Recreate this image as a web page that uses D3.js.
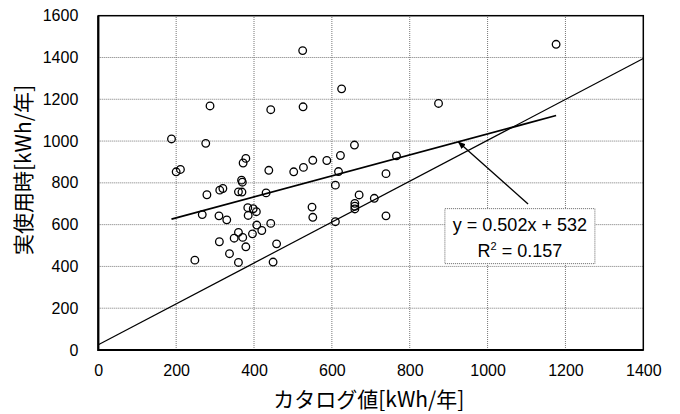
<html>
<head>
<meta charset="utf-8">
<script src="https://d3js.org/d3.v7.min.js"></script>
<style>
body { margin:0; background:#fff; }
</style>
</head>
<body>
<svg width="680" height="414"></svg>
<script>
// catalog value (x) and actual use (y), kWh/year
var catalog = [188,200,211,248,267,276,279,287,310,311,312,320,330,337,349,360,360,360,369,368,370,371,372,379,379,
	384,398,406,385,396,407,420,431,438,443,443,449,458,502,525,526,527,549,551,551,587,609,609,617,622,625,
	658,659,659,659,670,709,739,739,766,874,1176];
var actual = [1010,853,864,430,648,989,743,1168,642,518,765,773,623,461,535,757,563,419,756,813,803,539,895,917,494,
	681,676,662,644,556,598,572,752,860,1150,606,421,508,853,1433,1164,874,684,908,635,907,789,614,854,931,1250,
	981,702,688,675,742,726,844,642,929,1180,1463];
var xTicks = [0,200,400,600,800,1000,1200,1400];
var yTicks = [0,200,400,600,800,1000,1200,1400,1600];
var slope = 0.502, intercept = 532;
var eqText = "y = 0.502x + 532";
var r2Text = "0.157";
var diagLine = [[0, 25], [1400, 1395]];
var arrowFrom = [1104, 699], arrowTo = [925, 996];
var labelAt = [1083, 545];

var width = 680, height = 414;
var margin = {top: 15.7, right: 36.7, bottom: 64, left: 98.3};
var svg = d3.select("svg");

var x = d3.scaleLinear().domain([0, 1400]).range([margin.left, width - margin.right]);
var y = d3.scaleLinear().domain([0, 1600]).range([height - margin.bottom, margin.top]);

// grid
svg.append("g").selectAll("line").data(xTicks.slice(1, -1)).enter().append("line")
	.attr("x1", d => x(d)).attr("x2", d => x(d))
	.attr("y1", y(0)).attr("y2", y(1600))
	.attr("stroke", "#777").attr("stroke-dasharray", "1,1");
svg.append("g").selectAll("line").data(yTicks.slice(1, -1)).enter().append("line")
	.attr("x1", x(0)).attr("x2", x(1400))
	.attr("y1", d => y(d)).attr("y2", d => y(d))
	.attr("stroke", "#777").attr("stroke-dasharray", "1,1");

// axes
var xAxis = svg.append("g")
	.attr("transform", "translate(0," + y(0) + ")")
	.call(d3.axisBottom(x).tickValues(xTicks).tickFormat(d3.format("d")).tickSize(0).tickPadding(15));
var yAxis = svg.append("g")
	.attr("transform", "translate(" + x(0) + ",0)")
	.call(d3.axisLeft(y).tickValues(yTicks).tickFormat(d3.format("d")).tickSize(0).tickPadding(20));
[xAxis, yAxis].forEach(function(g) {
	g.select(".domain").remove();
	g.selectAll("text").attr("font-family", "Liberation Sans, Arial, sans-serif")
		.attr("font-size", "16px").attr("fill", "#000");
});

// frame
svg.append("rect")
	.attr("x", x(0)).attr("y", y(1600))
	.attr("width", x(1400) - x(0)).attr("height", y(0) - y(1600))
	.attr("fill", "none").attr("stroke", "#000").attr("stroke-width", 1.5);
svg.append("path")
	.attr("d", "M" + x(0) + "," + y(1600) + "V" + y(0) + "H" + x(1400))
	.attr("fill", "none").attr("stroke", "#000").attr("stroke-width", 2.2);

// 1:1 line
svg.append("line")
	.attr("x1", x(diagLine[0][0])).attr("y1", y(diagLine[0][1]))
	.attr("x2", x(diagLine[1][0])).attr("y2", y(diagLine[1][1]))
	.attr("stroke", "#000").attr("stroke-width", 1.2);

// regression line
var xmin = d3.min(catalog), xmax = d3.max(catalog);
svg.append("line")
	.attr("x1", x(xmin)).attr("y1", y(slope * xmin + intercept))
	.attr("x2", x(xmax)).attr("y2", y(slope * xmax + intercept))
	.attr("stroke", "#000").attr("stroke-width", 1.8);

// points
svg.append("g").selectAll("circle").data(catalog).enter().append("circle")
	.attr("cx", d => x(d))
	.attr("cy", (d, i) => y(actual[i]))
	.attr("r", 3.8)
	.attr("fill", "none").attr("stroke", "#000").attr("stroke-width", 1.3);

// arrow
svg.append("defs").append("marker")
	.attr("id", "head").attr("viewBox", "0 0 10 10")
	.attr("refX", 9).attr("refY", 5)
	.attr("markerWidth", 6).attr("markerHeight", 6)
	.attr("orient", "auto")
	.append("path").attr("d", "M0,1L10,5L0,9Z").attr("fill", "#000");
svg.append("line")
	.attr("x1", x(arrowFrom[0])).attr("y1", y(arrowFrom[1]))
	.attr("x2", x(arrowTo[0])).attr("y2", y(arrowTo[1]))
	.attr("stroke", "#000").attr("stroke-width", 1.3)
	.attr("marker-end", "url(#head)");

// label box
var lx = x(labelAt[0]), ly = y(labelAt[1]);
svg.append("rect")
	.attr("x", lx - 75).attr("y", ly - 27.5)
	.attr("width", 150).attr("height", 55)
	.attr("fill", "#fff").attr("stroke", "#666").attr("stroke-dasharray", "1,1");
var lab = svg.append("text")
	.attr("font-family", "Liberation Sans, Arial, sans-serif")
	.attr("font-size", "18px").attr("text-anchor", "middle");
lab.append("tspan").attr("x", lx).attr("y", ly - 5).text(eqText);
var l2 = lab.append("tspan").attr("x", lx).attr("y", ly + 21).text("R");
l2.append("tspan").attr("dy", -7).attr("font-size", "11px").text("2");
l2.append("tspan").attr("dy", 7).text(" = " + r2Text);

// axis titles
svg.append("text")
	.attr("x", (x(0) + x(1400)) / 2 - 2).attr("y", 407)
	.attr("text-anchor", "middle")
	.attr("font-family", "Noto Sans CJK JP, sans-serif").attr("font-size", "21px")
	.text("カタログ値[kWh/年]");
svg.append("text")
	.attr("transform", "translate(31,170) rotate(-90)")
	.attr("text-anchor", "middle")
	.attr("font-family", "Noto Sans CJK JP, sans-serif").attr("font-size", "21px")
	.text("実使用時[kWh/年]");
</script>
</body>
</html>
